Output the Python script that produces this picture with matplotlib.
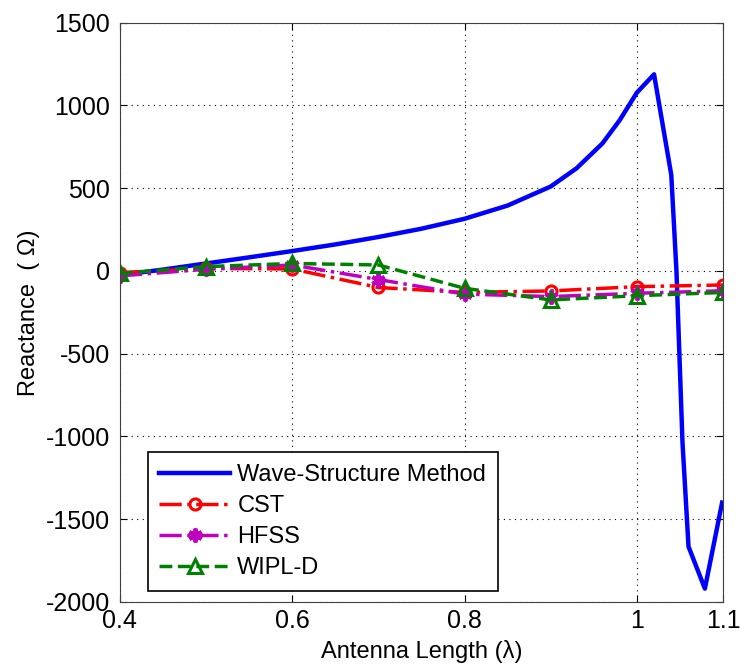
import matplotlib
matplotlib.use('Agg')
import matplotlib.pyplot as plt

plt.rcParams['font.family'] = ['Liberation Sans', 'DejaVu Sans']
plt.rcParams['axes.unicode_minus'] = False

# Wave-structure method (dense curve)
wsm_len = [0.40, 0.45, 0.50, 0.55, 0.60, 0.65, 0.70, 0.75, 0.80, 0.85, 0.90,
           0.93, 0.96, 0.98, 1.00, 1.02, 1.04, 1.046, 1.053, 1.060, 1.079, 1.099]
wsm_x = [-25, 8, 45, 82, 120, 160, 205, 255, 315, 395, 510,
         620, 770, 910, 1077, 1188, 580, 0, -1035, -1666, -1920, -1400]

# Simulated results
sim_len = [0.4, 0.5, 0.6, 0.7, 0.8, 0.9, 1.0, 1.1]
cst_x = [-10, 15, 12, -100, -130, -121, -95, -85]
hfss_x = [-30, 10, 36, -52, -140, -155, -135, -120]
wipl_x = [-15, 26, 45, 36, -105, -175, -150, -130]

xticks = [0.4, 0.6, 0.8, 1.0, 1.1]
xtick_labels = ['0.4', '0.6', '0.8', '1', '1.1']
yticks = [-2000, -1500, -1000, -500, 0, 500, 1000, 1500]

fig = plt.figure(figsize=(7.4, 6.68), dpi=100)
ax = fig.add_axes([0.162, 0.099, 0.815, 0.867])

ax.plot(wsm_len, wsm_x, '-', color='#0000ff', lw=3.2, label='Wave-Structure Method')
ax.plot(sim_len, cst_x, '-.', color='#ff0000', lw=2.5, marker='o', ms=8,
        mfc='none', mew=2.2, label='CST')
ax.plot(sim_len, hfss_x, '-.', color='#c000c0', lw=2.5, marker=(6, 2, 0), ms=10,
        mew=2.8, label='HFSS')
ax.plot(sim_len, wipl_x, '--', color='#008000', lw=2.5, marker='^', ms=10,
        mfc='none', mew=2.2, label='WIPL-D')

ax.set_xlim(0.4, 1.1)
ax.set_ylim(-2000, 1500)
ax.set_xticks(xticks)
ax.set_xticklabels(xtick_labels)
ax.set_yticks(yticks)
ax.tick_params(direction='in', top=True, right=True, labelsize=18, length=5)
ax.tick_params(axis='y', pad=7)
ax.tick_params(axis='x', pad=5)
ax.grid(True, color='black', linestyle=(0, (1, 4)), linewidth=0.8)
for s in ax.spines.values():
    s.set_color('#404040')

ax.set_xlabel('Antenna Length (λ)', fontsize=17, labelpad=5)
ax.set_ylabel('Reactance  ( Ω)', fontsize=17, labelpad=4)

leg = ax.legend(loc='lower left', bbox_to_anchor=(0.046, 0.019), borderaxespad=0,
                fontsize=17, fancybox=False, edgecolor='black', framealpha=1,
                handlelength=3.0, handletextpad=0.3, labelspacing=0.38, borderpad=0.5)
leg.get_frame().set_linewidth(1.2)

fig.savefig('out.png', dpi=100)
